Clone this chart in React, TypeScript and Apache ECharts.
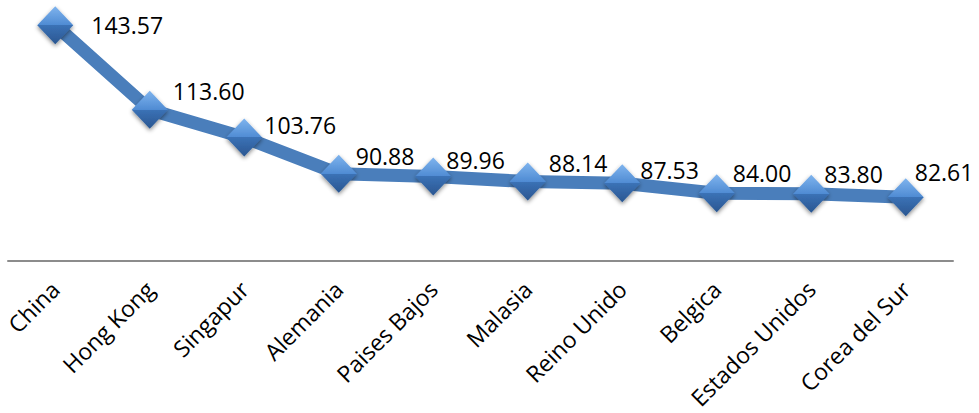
import React, { useEffect, useRef } from "react";
import * as echarts from "echarts";

const categories = ["China", "Hong Kong", "Singapur", "Alemania", "Paises Bajos", "Malasia", "Reino Unido", "Belgica", "Estados Unidos", "Corea del Sur"];
const values = [143.57, 113.6, 103.76, 90.88, 89.96, 88.14, 87.53, 84.0, 83.8, 82.61];
const labelOffsets = [[14, 0], [1, -19], [-2, -12], [-5, -18], [-9, -16], [-1, -19], [-4, -13], [-6, -20], [-9, -20], [-13, -25]];

export default function App() {
  const ref = useRef<HTMLDivElement>(null);
  useEffect(() => {
    if (!ref.current) return;
    const chart = echarts.init(ref.current, null, { renderer: "svg" });
    const markerFill = new echarts.graphic.LinearGradient(0, 0, 0, 1, [
      { offset: 0, color: "#7fb4ee" },
      { offset: 0.5, color: "#4f8bd3" },
      { offset: 0.5, color: "#3b72b6" },
      { offset: 1, color: "#2a5691" },
    ]);
    chart.setOption({
      animation: false,
      backgroundColor: "#ffffff",
      grid: { left: 8, right: 26, top: 7, bottom: 152, containLabel: false, outerBoundsMode: "none" },
      xAxis: {
        type: "category",
        data: categories,
        boundaryGap: true,
        axisLine: { show: true, lineStyle: { color: "#8c8c8c", width: 2 } },
        axisTick: { show: false },
        axisLabel: {
          interval: 0,
          rotate: 45,
          margin: 24,
          color: "#000000",
          fontFamily: "Open Sans",
          fontSize: 23,
        },
        splitLine: { show: false },
      },
      yAxis: {
        type: "value",
        min: 60,
        max: 150,
        show: false,
        splitLine: { show: false },
      },
      series: [
        {
          type: "line",
          data: values.map((v, i) => ({
            value: v,
            label: { offset: labelOffsets[i] },
          })),
          symbol: "diamond",
          symbolSize: [36, 38],
          lineStyle: { color: "#4a7ebb", width: 13 },
          itemStyle: {
            color: markerFill,
            borderWidth: 0,
            shadowBlur: 4,
            shadowColor: "rgba(0,0,0,0.45)",
            shadowOffsetY: 2,
          },
          label: {
            show: true,
            position: "right",
            distance: 4,
            formatter: (p: any) => Number(p.value).toFixed(2),
            color: "#000000",
            fontFamily: "Open Sans",
            fontSize: 23,
          },
          z: 3,
        },
      ],
    });
    return () => chart.dispose();
  }, []);
  return (
    <div
      ref={ref}
      style={{ position: "fixed", left: 0, top: 0, width: 979, height: 413, background: "#fff" }}
    />
  );
}
